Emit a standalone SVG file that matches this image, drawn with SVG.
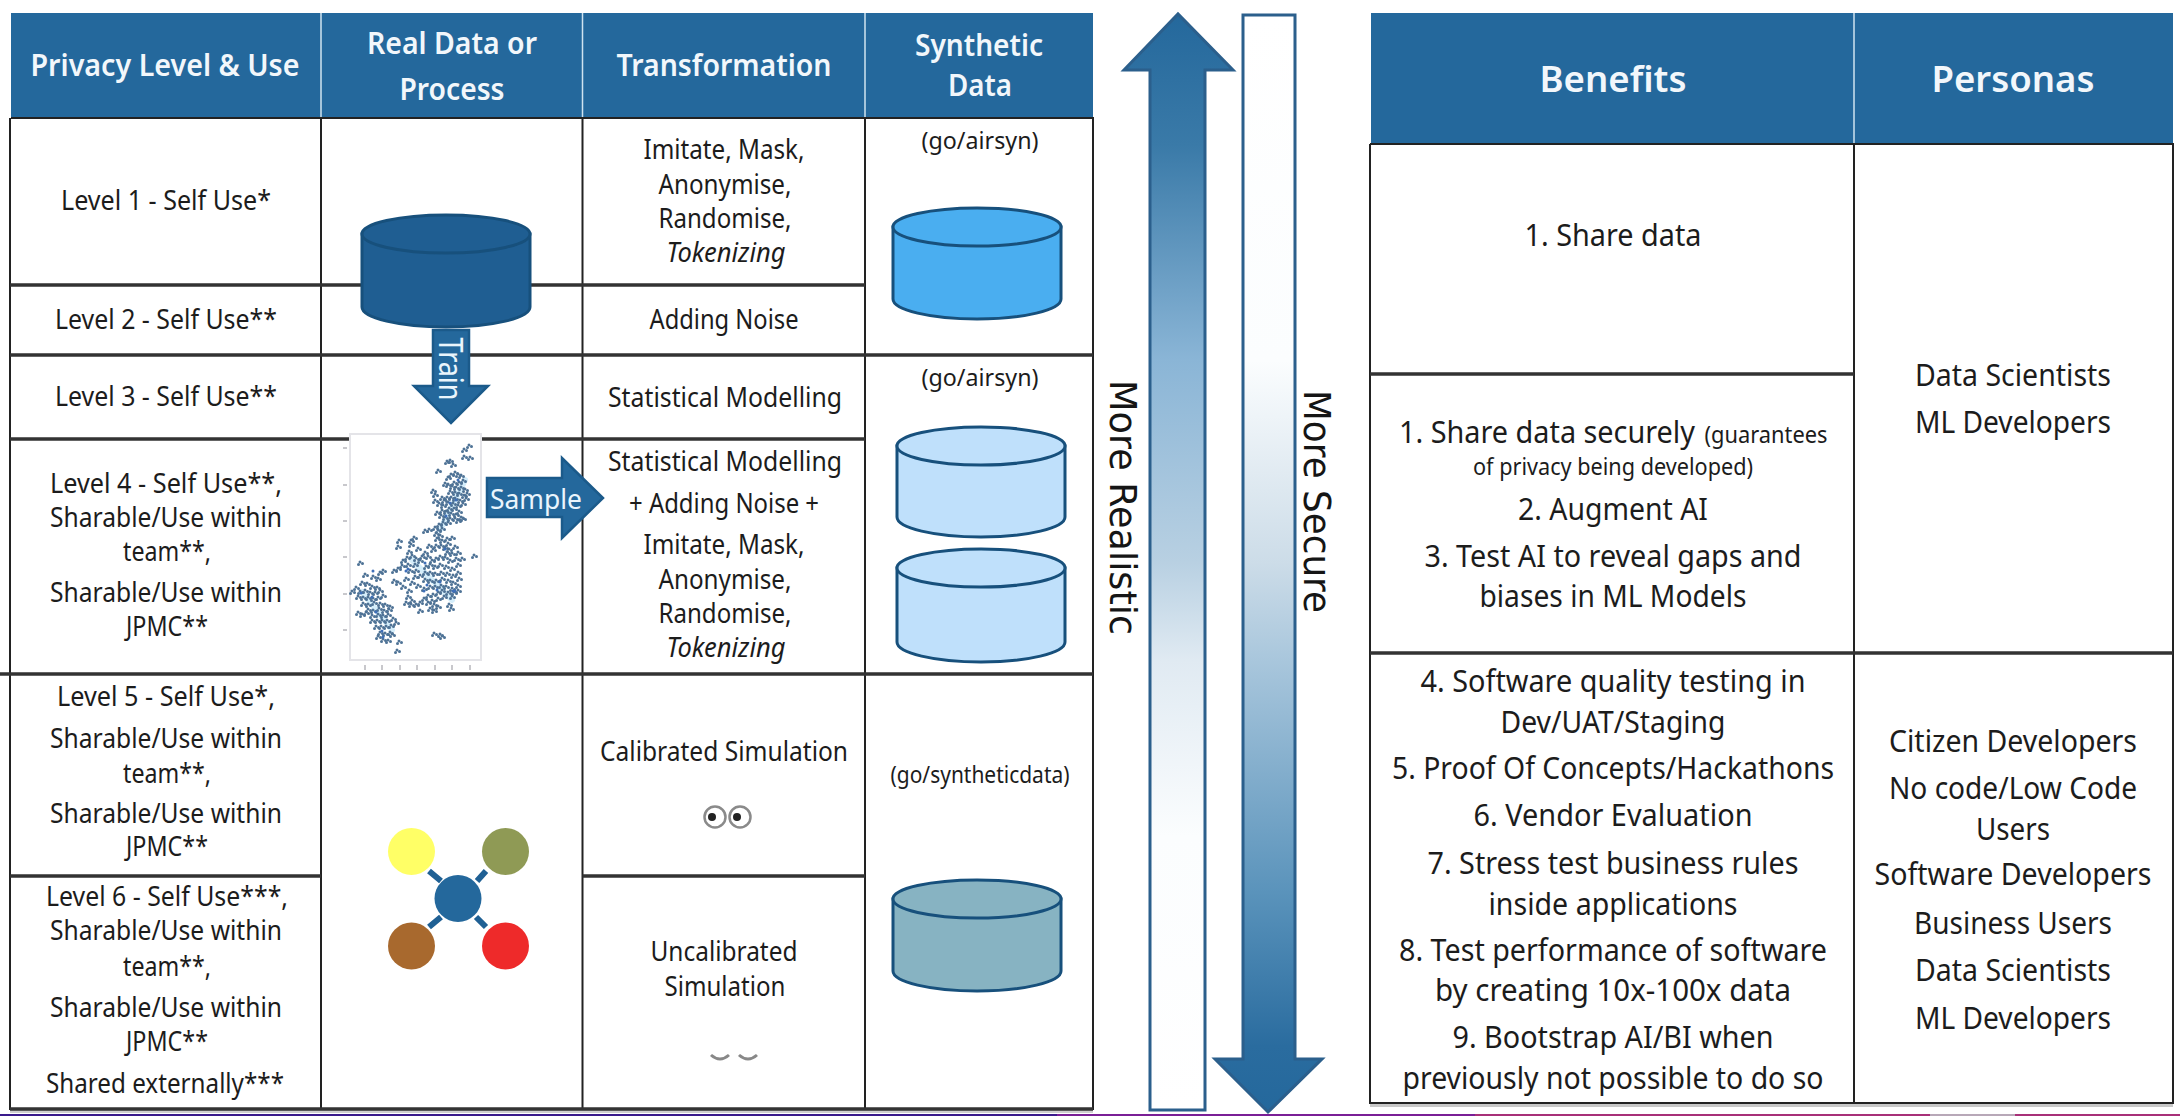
<svg xmlns="http://www.w3.org/2000/svg" width="2180" height="1116" viewBox="0 0 2180 1116">
<style>
text{font-family:"Noto Sans","Liberation Sans",sans-serif;fill:#1c1c1c;text-anchor:middle}
.h{font-size:30px;font-weight:600;fill:#f2f7fb}
.H{font-size:36px;font-weight:600;fill:#f2f7fb}
.t{font-size:28px}
.u{font-size:31px}
.s{font-size:23px}
.g{font-size:24px}
.i{font-style:italic}
.hd{fill:#24689c}
.sep{stroke:#cfe3f0;stroke-width:1.5;fill:none}
.ln{stroke:#222;stroke-width:2;fill:none}
.lr{stroke:#333;stroke-width:3.5;fill:none}
.cy{stroke:#17507c;stroke-width:3}
.ar{stroke:#2b5f8c;stroke-width:3}
.w{fill:#eaf5fc}
.d{font-family:"DejaVu Sans",sans-serif;fill:#151515;font-size:38px}
.sc{fill:none;stroke:#4f7396;stroke-width:3;stroke-linecap:round}
</style>
<defs>
<linearGradient id="up" x1="0" y1="0" x2="0" y2="1"><stop offset="0" stop-color="#24689c"/><stop offset="0.12" stop-color="#3a7aa8"/><stop offset="0.315" stop-color="#8ab5d6"/><stop offset="0.5" stop-color="#b8d0e2"/><stop offset="0.59" stop-color="#e0eaf2"/><stop offset="0.75" stop-color="#fbfdfe"/><stop offset="1" stop-color="#fff"/></linearGradient>
<linearGradient id="dn" x1="0" y1="0" x2="0" y2="1"><stop offset="0" stop-color="#fff"/><stop offset="0.315" stop-color="#fbfdfe"/><stop offset="0.5" stop-color="#ccdce8"/><stop offset="0.59" stop-color="#a8c6dc"/><stop offset="0.8" stop-color="#5a93bb"/><stop offset="0.94" stop-color="#2a6c9f"/><stop offset="1" stop-color="#24689c"/></linearGradient>
<path id="pts" d="M469 445h0M464 449h0M470 457h0M464 456h0M447 461h0M450 460h0M453 464h0M438 470h0M448 477h0M451 474h0M455 472h0M458 474h0M461 475h0M463 480h0M459 482h0M454 482h0M448 484h0M445 483h0M452 486h0M456 487h0M461 487h0M465 489h0M467 493h0M464 495h0M459 493h0M455 492h0M450 491h0M433 490h0M435 494h0M442 497h0M447 497h0M451 497h0M455 498h0M460 500h0M466 498h0M463 503h0M458 505h0M453 503h0M448 502h0M444 500h0M435 500h0M439 503h0M443 505h0M449 508h0M454 508h0M459 511h0M456 514h0M451 513h0M446 511h0M442 510h0M437 512h0M441 515h0M445 517h0M450 518h0M455 518h0M458 520h0M463 518h0M461 517h0M448 522h0M443 522h0M439 524h0M435 527h0M438 530h0M442 528h0M436 533h0M440 535h0M425 530h0M429 529h0M437 538h0M442 540h0M447 538h0M452 537h0M448 543h0M445 547h0M449 549h0M455 546h0M458 552h0M452 553h0M447 552h0M441 545h0M436 545h0M433 549h0M429 545h0M425 552h0M418 548h0M411 540h0M414 537h0M399 540h0M398 546h0M411 544h0M409 551h0M412 555h0M407 557h0M403 560h0M416 558h0M420 560h0M415 564h0M408 564h0M402 565h0M398 568h0M394 570h0M410 570h0M416 570h0M422 556h0M428 556h0M432 560h0M436 558h0M440 556h0M445 557h0M450 560h0M456 558h0M430 564h0M426 566h0M435 566h0M440 564h0M446 566h0M452 568h0M458 564h0M474 555h0M458 572h0M462 558h0M459 578h0M453 575h0M447 573h0M441 572h0M435 573h0M430 572h0M425 572h0M420 575h0M425 579h0M430 580h0M436 580h0M442 578h0M448 580h0M453 582h0M458 585h0M452 588h0M446 586h0M441 585h0M435 586h0M430 586h0M424 588h0M418 585h0M412 582h0M415 576h0M406 578h0M398 582h0M394 580h0M403 586h0M409 590h0M408 596h0M412 600h0M406 602h0M411 604h0M416 604h0M420 602h0M424 598h0M428 595h0M433 594h0M438 592h0M442 590h0M448 592h0M454 592h0M458 590h0M444 596h0M438 598h0M432 600h0M428 602h0M434 604h0M438 606h0M430 608h0M434 610h0M452 596h0M449 604h0M451 608h0M420 610h0M434 633h0M440 634h0M442 636h0M352 591h0M360 562h0M365 574h0M373 576h0M380 572h0M383 570h0M378 578h0M362 582h0M367 583h0M372 586h0M377 587h0M356 587h0M360 591h0M365 590h0M370 592h0M375 592h0M380 590h0M358 596h0M363 597h0M368 597h0M373 598h0M378 597h0M383 595h0M363 603h0M368 604h0M374 602h0M380 603h0M385 604h0M390 606h0M368 609h0M373 610h0M379 608h0M384 610h0M389 609h0M358 612h0M362 614h0M366 612h0M372 615h0M378 614h0M383 615h0M388 614h0M372 620h0M377 620h0M382 620h0M387 620h0M393 618h0M376 626h0M381 626h0M386 626h0M391 625h0M396 622h0M380 632h0M385 633h0M390 632h0M378 636h0M383 639h0M388 640h0M392 634h0M399 641h0M397 650h0"/>
</defs>
<rect width="2180" height="1116" fill="#fff"/>
<g id="bottom-strip">
<rect x="0" y="1114" width="1057" height="2" fill="#3a1a8c"/>
<rect x="1057" y="1114" width="418" height="2" fill="#7a1f96"/>
<rect x="1475" y="1114" width="705" height="2" fill="#a83078"/>
<rect x="1930" y="1114" width="85" height="2" fill="#b8a8b8"/>
</g>

<g id="left-table">
<rect class="hd" x="11" y="13" width="1082" height="105"/>
<path class="sep" d="M321 13V118M582.500 13V118M865 13V118"/>
<path stroke="#d0d0d0" stroke-width="3" fill="none" d="M10 1111.500H1093"/>
<path class="ln" d="M11 118H1093V1109H10V118M321 118V1109M582.500 118V1109M865 118V1109"/>
<path class="lr" d="M10 285H865M10 355H1093M10 439H865M0 674H1093M10 876H321M582.500 876H865M10 1109H1093"/>
</g>

<g id="head-privacy"><text class="h" x="165" y="76" textLength="269" lengthAdjust="spacingAndGlyphs">Privacy Level &amp; Use</text></g>
<g id="head-real"><text class="h" x="452" y="54" textLength="170" lengthAdjust="spacingAndGlyphs">Real Data or</text><text class="h" x="452" y="100" textLength="105" lengthAdjust="spacingAndGlyphs">Process</text></g>
<g id="head-transformation"><text class="h" x="724" y="76" textLength="215" lengthAdjust="spacingAndGlyphs">Transformation</text></g>
<g id="head-synthetic"><text class="h" x="979" y="56" textLength="128" lengthAdjust="spacingAndGlyphs">Synthetic</text><text class="h" x="980" y="96" textLength="64" lengthAdjust="spacingAndGlyphs">Data</text></g>

<g id="level-1"><text class="t" x="166" y="210" textLength="210" lengthAdjust="spacingAndGlyphs">Level 1 - Self Use*</text></g>
<g id="level-2"><text class="t" x="166" y="329" textLength="222" lengthAdjust="spacingAndGlyphs">Level 2 - Self Use**</text></g>
<g id="level-3"><text class="t" x="166" y="406" textLength="222" lengthAdjust="spacingAndGlyphs">Level 3 - Self Use**</text></g>
<g id="level-4">
<text class="t" x="166" y="493" textLength="232" lengthAdjust="spacingAndGlyphs">Level 4 - Self Use**,</text>
<text class="t" x="166" y="527" textLength="232" lengthAdjust="spacingAndGlyphs">Sharable/Use within</text>
<text class="t" x="167" y="561" textLength="88" lengthAdjust="spacingAndGlyphs">team**,</text>
<text class="t" x="166" y="602" textLength="232" lengthAdjust="spacingAndGlyphs">Sharable/Use within</text>
<text class="t" x="167" y="636" textLength="82" lengthAdjust="spacingAndGlyphs">JPMC**</text>
</g>
<g id="level-5">
<text class="t" x="166" y="706" textLength="218" lengthAdjust="spacingAndGlyphs">Level 5 - Self Use*,</text>
<text class="t" x="166" y="748" textLength="232" lengthAdjust="spacingAndGlyphs">Sharable/Use within</text>
<text class="t" x="167" y="783" textLength="88" lengthAdjust="spacingAndGlyphs">team**,</text>
<text class="t" x="166" y="823" textLength="232" lengthAdjust="spacingAndGlyphs">Sharable/Use within</text>
<text class="t" x="167" y="856" textLength="82" lengthAdjust="spacingAndGlyphs">JPMC**</text>
</g>
<g id="level-6">
<text class="t" x="167" y="906" textLength="242" lengthAdjust="spacingAndGlyphs">Level 6 - Self Use***,</text>
<text class="t" x="166" y="940" textLength="232" lengthAdjust="spacingAndGlyphs">Sharable/Use within</text>
<text class="t" x="167" y="976" textLength="88" lengthAdjust="spacingAndGlyphs">team**,</text>
<text class="t" x="166" y="1017" textLength="232" lengthAdjust="spacingAndGlyphs">Sharable/Use within</text>
<text class="t" x="167" y="1051" textLength="82" lengthAdjust="spacingAndGlyphs">JPMC**</text>
<text class="t" x="165" y="1093" textLength="238" lengthAdjust="spacingAndGlyphs">Shared externally***</text>
</g>

<g id="transform-1">
<text class="t" x="724" y="159" textLength="161" lengthAdjust="spacingAndGlyphs">Imitate, Mask,</text>
<text class="t" x="725" y="194" textLength="133" lengthAdjust="spacingAndGlyphs">Anonymise,</text>
<text class="t" x="725" y="228" textLength="133" lengthAdjust="spacingAndGlyphs">Randomise,</text>
<text class="t i" x="726" y="262" textLength="119" lengthAdjust="spacingAndGlyphs">Tokenizing</text>
</g>
<g id="transform-2"><text class="t" x="724" y="329" textLength="149" lengthAdjust="spacingAndGlyphs">Adding Noise</text></g>
<g id="transform-3"><text class="t" x="725" y="407" textLength="234" lengthAdjust="spacingAndGlyphs">Statistical Modelling</text></g>
<g id="transform-4">
<text class="t" x="725" y="471" textLength="234" lengthAdjust="spacingAndGlyphs">Statistical Modelling</text>
<text class="t" x="724" y="513" textLength="190" lengthAdjust="spacingAndGlyphs">+ Adding Noise +</text>
<text class="t" x="724" y="554" textLength="161" lengthAdjust="spacingAndGlyphs">Imitate, Mask,</text>
<text class="t" x="725" y="589" textLength="133" lengthAdjust="spacingAndGlyphs">Anonymise,</text>
<text class="t" x="725" y="623" textLength="133" lengthAdjust="spacingAndGlyphs">Randomise,</text>
<text class="t i" x="726" y="657" textLength="119" lengthAdjust="spacingAndGlyphs">Tokenizing</text>
</g>
<g id="transform-5">
<text class="t" x="724" y="761" textLength="248" lengthAdjust="spacingAndGlyphs">Calibrated Simulation</text>
<circle cx="715" cy="817" r="10.500" fill="#fff" stroke="#8a8a8a" stroke-width="2.500"/><circle cx="712" cy="817" r="4" fill="#222"/>
<circle cx="740" cy="817" r="10.500" fill="#fff" stroke="#8a8a8a" stroke-width="2.500"/><circle cx="737" cy="817" r="4" fill="#222"/>
</g>
<g id="transform-6">
<text class="t" x="724" y="961" textLength="147" lengthAdjust="spacingAndGlyphs">Uncalibrated</text>
<text class="t" x="725" y="996" textLength="121" lengthAdjust="spacingAndGlyphs">Simulation</text>
<path d="M711 1055Q720 1063 729 1055M739 1055Q748 1063 757 1055" fill="none" stroke="#888" stroke-width="3"/>
</g>

<g id="synthetic-1">
<text class="g" x="980" y="149" textLength="117" lengthAdjust="spacingAndGlyphs">(go/airsyn)</text>
<path class="cy" fill="#4aaef0" d="M893 227V299A84 20 0 0 0 1061 299V227Z"/><ellipse class="cy" fill="#4aaef0" cx="977" cy="227" rx="84" ry="19"/>
</g>
<g id="synthetic-2">
<text class="g" x="980" y="386" textLength="117" lengthAdjust="spacingAndGlyphs">(go/airsyn)</text>
<path class="cy" fill="#bfe0fb" d="M897 446V517A84 20 0 0 0 1065 517V446Z"/><ellipse class="cy" fill="#bfe0fb" cx="981" cy="446" rx="84" ry="19"/>
</g>
<g id="synthetic-3">
<path class="cy" fill="#bfe0fb" d="M897 568V642A84 20 0 0 0 1065 642V568Z"/><ellipse class="cy" fill="#bfe0fb" cx="981" cy="568" rx="84" ry="19"/>
</g>
<g id="synthetic-4">
<text class="g" x="980" y="783" textLength="179" lengthAdjust="spacingAndGlyphs">(go/syntheticdata)</text>
<path class="cy" fill="#87b3c2" d="M893 899V971A84 20 0 0 0 1061 971V899Z"/><ellipse class="cy" fill="#87b3c2" cx="977" cy="899" rx="84" ry="19"/>
</g>

<g id="real-data">
<path class="cy" fill="#1f5e92" d="M362 234V307A84 20 0 0 0 530 307V234Z"/><ellipse class="cy" fill="#1f5e92" cx="446" cy="234" rx="84" ry="19"/>
</g>

<g id="scatter">
<rect x="350" y="434" width="131" height="226" fill="#fff" stroke="#e4e4e8" stroke-width="2"/>
<path stroke="#c8c8cc" stroke-width="2" fill="none" d="M365 665v5M382 665v5M400 665v5M417 665v5M435 665v5M452 665v5M470 665v5M343 448h4M343 485h4M343 521h4M343 557h4M343 594h4M343 630h4"/>
<path fill="none" stroke="#a9dcf5" stroke-width="6" stroke-linecap="round" opacity=".5" d="M362 592L392 630M412 560L452 600M440 530L465 480"/>
<use href="#pts" class="sc"/>
<use href="#pts" class="sc" transform="translate(2.500 1.500)"/>
<use href="#pts" class="sc" transform="translate(-1.500 2.500)"/>
<path fill="none" stroke="#3f6fb8" stroke-width="3" stroke-linecap="round" d="M373 571h0M361 593h0M372 597h0M376 612h0M382 631h0M383 637h0M406 571h0M408 569h0M425 563h0M427 585h0M424 591h0M455 591h0M453 591h0M458 480h0M456 500h0M450 503h0M446 516h0M445 549h0M440 582h0M437 590h0"/>
</g>

<g id="process">
<path stroke="#1f6094" stroke-width="6" fill="none" d="M429 871L441 881M486 871L477 881M429 927L441 917M486 927L476 917"/>
<circle cx="411.500" cy="851.500" r="23.500" fill="#ffff66"/>
<circle cx="505.500" cy="851.500" r="23.500" fill="#8f9a55"/>
<circle cx="458" cy="898.500" r="23.500" fill="#24689c"/>
<circle cx="411.500" cy="946" r="23.500" fill="#a8692e"/>
<circle cx="505.500" cy="946" r="23.500" fill="#ee2a2a"/>
</g>

<g id="connectors">
<path stroke="#1b5a8a" stroke-width="2.500" fill="#24689c" d="M433 330H469V386H488L451 423L414 386H433Z"/>
<text class="w" font-size="32" transform="translate(439 369) rotate(90)" textLength="63" lengthAdjust="spacingAndGlyphs">Train</text>
<path stroke="#1b5a8a" stroke-width="2.500" fill="#24689c" d="M487 478H562V458L603 498L562 538V517H487Z"/>
<text class="w" x="536" y="509" font-size="28" textLength="92" lengthAdjust="spacingAndGlyphs">Sample</text>
<path class="ar" fill="url(#up)" d="M1150 1110V70H1124L1178 14L1233 70H1205V1110Z"/>
<path class="ar" fill="url(#dn)" d="M1243 15H1295V1059H1322L1268 1112L1215 1059H1243Z"/>
</g>

<g id="axis-labels">
<text class="d" transform="translate(1110 507.500) rotate(90)" textLength="255" lengthAdjust="spacingAndGlyphs">More Realistic</text>
<text class="d" transform="translate(1304 501.500) rotate(90)" textLength="223" lengthAdjust="spacingAndGlyphs">More Secure</text>
</g>

<g id="right-table">
<rect class="hd" x="1371" y="13" width="802" height="131"/>
<path class="sep" d="M1854 13V144"/>
<path stroke="#c8c8c8" stroke-width="3" fill="none" d="M1370 1105.500H2173"/>
<path class="ln" d="M1370 144H2173V1103H1370V144M1854 144V1103"/>
<path class="lr" d="M1370 374H1854M1370 653H2173"/>
</g>
<g id="head-benefits"><text class="H" x="1613" y="92" textLength="147" lengthAdjust="spacingAndGlyphs">Benefits</text></g>
<g id="head-personas"><text class="H" x="2013" y="92" textLength="163" lengthAdjust="spacingAndGlyphs">Personas</text></g>

<g id="benefits-1"><text class="u" x="1613" y="246" textLength="177" lengthAdjust="spacingAndGlyphs">1. Share data</text></g>
<g id="benefits-2">
<text class="u" x="1547" y="443" textLength="296" lengthAdjust="spacingAndGlyphs">1. Share data securely</text>
<text class="s" x="1766" y="443" textLength="123" lengthAdjust="spacingAndGlyphs">(guarantees</text>
<text class="s" x="1613" y="475" textLength="280" lengthAdjust="spacingAndGlyphs">of privacy being developed)</text>
<text class="u" x="1613" y="520" textLength="190" lengthAdjust="spacingAndGlyphs">2. Augment AI</text>
<text class="u" x="1613" y="567" textLength="377" lengthAdjust="spacingAndGlyphs">3. Test AI to reveal gaps and</text>
<text class="u" x="1613" y="607" textLength="267" lengthAdjust="spacingAndGlyphs">biases in ML Models</text>
</g>
<g id="benefits-3">
<text class="u" x="1613" y="692" textLength="385" lengthAdjust="spacingAndGlyphs">4. Software quality testing in</text>
<text class="u" x="1613" y="733" textLength="225" lengthAdjust="spacingAndGlyphs">Dev/UAT/Staging</text>
<text class="u" x="1613" y="779" textLength="442" lengthAdjust="spacingAndGlyphs">5. Proof Of Concepts/Hackathons</text>
<text class="u" x="1613" y="826" textLength="279" lengthAdjust="spacingAndGlyphs">6. Vendor Evaluation</text>
<text class="u" x="1613" y="874" textLength="371" lengthAdjust="spacingAndGlyphs">7. Stress test business rules</text>
<text class="u" x="1613" y="915" textLength="249" lengthAdjust="spacingAndGlyphs">inside applications</text>
<text class="u" x="1613" y="961" textLength="428" lengthAdjust="spacingAndGlyphs">8. Test performance of software</text>
<text class="u" x="1613" y="1001" textLength="356" lengthAdjust="spacingAndGlyphs">by creating 10x-100x data</text>
<text class="u" x="1613" y="1048" textLength="321" lengthAdjust="spacingAndGlyphs">9. Bootstrap AI/BI when</text>
<text class="u" x="1613" y="1089" textLength="421" lengthAdjust="spacingAndGlyphs">previously not possible to do so</text>
</g>
<g id="personas-1">
<text class="u" x="2013" y="386" textLength="196" lengthAdjust="spacingAndGlyphs">Data Scientists</text>
<text class="u" x="2013" y="433" textLength="196" lengthAdjust="spacingAndGlyphs">ML Developers</text>
</g>
<g id="personas-2">
<text class="u" x="2013" y="752" textLength="248" lengthAdjust="spacingAndGlyphs">Citizen Developers</text>
<text class="u" x="2013" y="799" textLength="248" lengthAdjust="spacingAndGlyphs">No code/Low Code</text>
<text class="u" x="2013" y="840" textLength="74" lengthAdjust="spacingAndGlyphs">Users</text>
<text class="u" x="2013" y="885" textLength="277" lengthAdjust="spacingAndGlyphs">Software Developers</text>
<text class="u" x="2013" y="934" textLength="198" lengthAdjust="spacingAndGlyphs">Business Users</text>
<text class="u" x="2013" y="981" textLength="196" lengthAdjust="spacingAndGlyphs">Data Scientists</text>
<text class="u" x="2013" y="1029" textLength="196" lengthAdjust="spacingAndGlyphs">ML Developers</text>
</g>
</svg>
